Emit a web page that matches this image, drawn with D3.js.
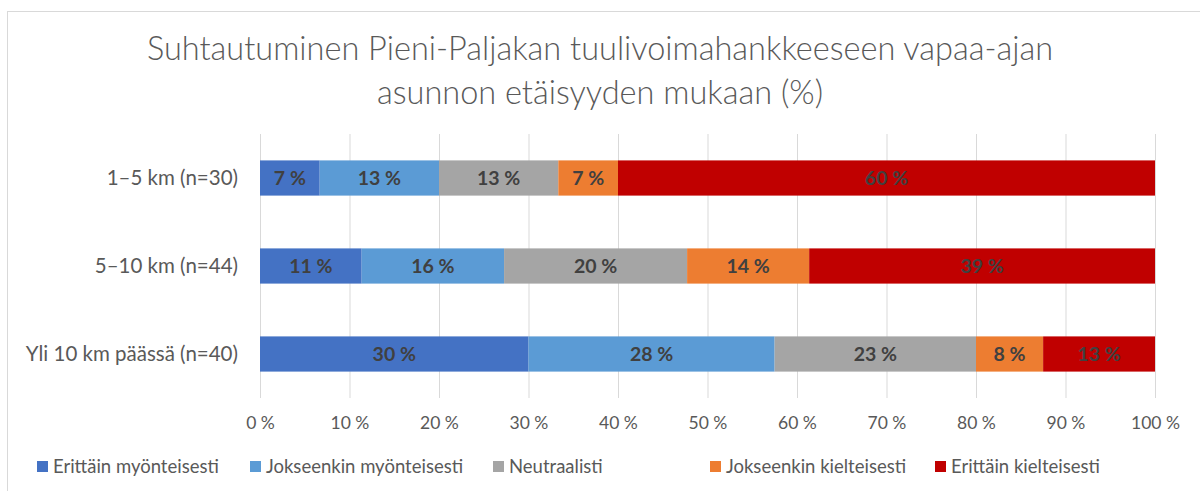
<!DOCTYPE html>
<html>
<head>
<meta charset="utf-8">
<script src="https://cdn.jsdelivr.net/npm/d3@7"></script>
<style>
  body { margin: 0; background: #fff; }
  svg { font-family: Lato, "Open Sans", sans-serif; }
</style>
</head>
<body>
<svg id="chart" width="1200" height="491"></svg>
<script>
// data (percent of respondents)
var categories = ["1–5 km (n=30)", "5–10 km (n=44)", "Yli 10 km päässä (n=40)"];
var seriesNames = ["Erittäin myönteisesti", "Jokseenkin myönteisesti", "Neutraalisti", "Jokseenkin kielteisesti", "Erittäin kielteisesti"];
var colors = ["#4472C4", "#5B9BD5", "#A5A5A5", "#ED7D31", "#C00000"];
var veryPositive = [6.67, 11.36, 30.0];
var somewhatPositive = [13.33, 15.91, 27.5];
var neutral = [13.33, 20.45, 22.5];
var somewhatNegative = [6.67, 13.64, 7.5];
var veryNegative = [60.0, 38.64, 12.5];
var tickValues = [0, 10, 20, 30, 40, 50, 60, 70, 80, 90, 100];
var titleLines = ["Suhtautuminen Pieni-Paljakan tuulivoimahankkeeseen vapaa-ajan", "asunnon etäisyyden mukaan (%)"];

var seriesValues = [veryPositive, somewhatPositive, neutral, somewhatNegative, veryNegative];

var svg = d3.select("#chart");

// chart border
svg.append("rect")
  .attr("x", 7.5).attr("y", 11.5)
  .attr("width", 1220).attr("height", 500)
  .attr("fill", "none")
  .attr("stroke", "#d9d9d9");

// title
svg.append("g").selectAll("text")
  .data(titleLines)
  .enter().append("text")
  .attr("x", 600)
  .attr("y", function(d, i) { return 60 + i * 44; })
  .attr("text-anchor", "middle")
  .attr("font-size", 32.5)
  .attr("font-weight", 300)
  .attr("fill", "#595959")
  .text(function(d) { return d; });

var x = d3.scaleLinear().domain([0, 100]).range([260, 1155]);
var y = d3.scaleBand().domain(categories).range([134, 398])
  .paddingInner(0.6).paddingOuter(0.3);

// gridlines
svg.append("g").selectAll("line")
  .data(tickValues)
  .enter().append("line")
  .attr("x1", function(d) { return x(d) + 0.5; })
  .attr("x2", function(d) { return x(d) + 0.5; })
  .attr("y1", 134).attr("y2", 398)
  .attr("stroke", "#d9d9d9")
  .attr("stroke-width", 1);

// x axis labels
var xAxis = d3.axisBottom(x)
  .tickValues(tickValues)
  .tickSize(0)
  .tickPadding(0)
  .tickFormat(function(d) { return d + " %"; });
var gx = svg.append("g").attr("transform", "translate(0,417)").call(xAxis);
gx.select(".domain").remove();
gx.selectAll("text")
  .attr("font-family", "Lato, 'Open Sans', sans-serif")
  .attr("font-size", 17.5)
  .attr("fill", "#595959");

// y axis labels
var yAxis = d3.axisLeft(y).tickSize(0).tickPadding(22);
var gy = svg.append("g").attr("transform", "translate(260,0)").call(yAxis);
gy.select(".domain").remove();
gy.selectAll("text")
  .attr("font-family", "Lato, 'Open Sans', sans-serif")
  .attr("font-size", 20.5)
  .attr("fill", "#595959");

// stacked data
var rows = categories.map(function(c, i) {
  var row = { category: c };
  seriesNames.forEach(function(s, j) { row[s] = seriesValues[j][i]; });
  return row;
});
var stacked = d3.stack().keys(seriesNames)(rows);

var layers = svg.append("g").selectAll("g")
  .data(stacked)
  .enter().append("g")
  .attr("fill", function(d, i) { return colors[i]; });

layers.selectAll("rect")
  .data(function(d) { return d; })
  .enter().append("rect")
  .attr("x", function(d) { return x(d[0]); })
  .attr("width", function(d) { return x(d[1]) - x(d[0]); })
  .attr("y", function(d) { return y(d.data.category); })
  .attr("height", y.bandwidth());

layers.selectAll("text")
  .data(function(d) { return d; })
  .enter().append("text")
  .attr("x", function(d) { return (x(d[0]) + x(d[1])) / 2; })
  .attr("y", function(d) { return y(d.data.category) + y.bandwidth() / 2; })
  .attr("dy", "0.35em")
  .attr("text-anchor", "middle")
  .attr("font-size", 19.5)
  .attr("font-weight", "bold")
  .attr("fill", "#404040")
  .text(function(d) { return Math.round(d[1] - d[0]) + " %"; });

// legend
var legendX = [37, 250, 493, 710, 935];
var legend = svg.append("g").selectAll("g")
  .data(seriesNames)
  .enter().append("g")
  .attr("transform", function(d, i) { return "translate(" + legendX[i] + ",467)"; });
legend.append("rect")
  .attr("x", 0).attr("y", -6)
  .attr("width", 11).attr("height", 11)
  .attr("fill", function(d, i) { return colors[i]; });
legend.append("text")
  .attr("x", 16)
  .attr("dy", "0.35em")
  .attr("font-size", 18.5)
  .attr("fill", "#595959")
  .text(function(d) { return d; });
</script>
</body>
</html>
